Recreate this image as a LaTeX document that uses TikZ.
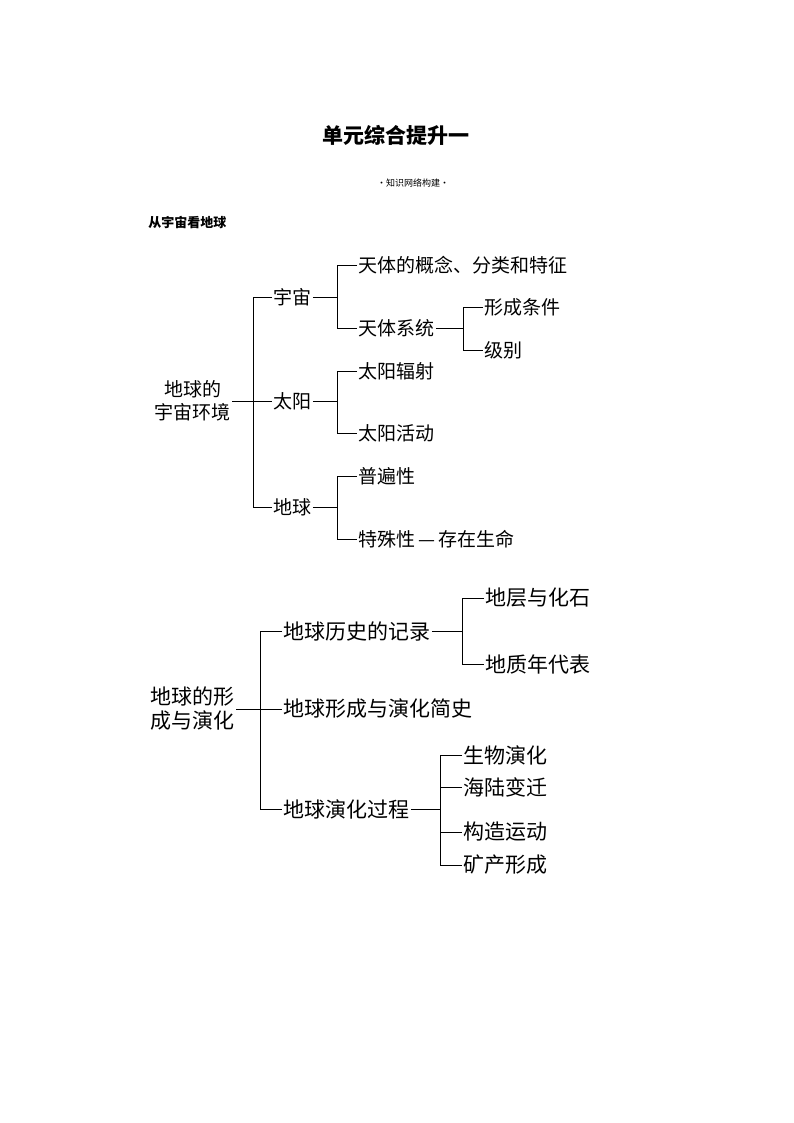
\documentclass[tikz,border=0pt]{standalone}
\usepackage{fontspec}
\setmainfont{Noto Sans CJK SC}
\begin{document}
\begin{tikzpicture}[x=1pt,y=-1pt,line width=0.8pt,
  a/.style={font=\fontsize{19}{22}\selectfont,anchor=west,inner sep=1pt},
  b/.style={font=\fontsize{21}{25}\selectfont,anchor=west,inner sep=1pt},
  r/.style={font=\fontsize{19}{23}\selectfont,align=center,inner sep=1pt}]
\useasboundingbox (0,0) rectangle (794,1123);
\node[font=\fontsize{21}{24}\selectfont\bfseries] (title) at (396,135) {单元综合提升一};
\node[font=\fontsize{9}{10}\selectfont] (sub) at (413,183) {·知识网络构建·};
\node[font=\fontsize{13}{15}\selectfont\bfseries,anchor=west,inner sep=0] (h) at (148,222) {从宇宙看地球};
% tree 1
\node[r,anchor=east] (r1) at (232,401) {地球的\\宇宙环境};
\node[a] (yz) at (272,297) {宇宙};
\node[a] (ty) at (272,401) {太阳};
\node[a] (dq) at (272,507) {地球};
\node[a] (t1) at (357,265) {天体的概念、分类和特征};
\node[a] (t2) at (357,328) {天体系统};
\node[a] (t3) at (483,307) {形成条件};
\node[a] (t4) at (483,350) {级别};
\node[a] (s1) at (357,371) {太阳辐射};
\node[a] (s2) at (357,433) {太阳活动};
\node[a] (e1) at (357,476) {普遍性};
\node[a] (e2) at (357,539) {特殊性\,—\,存在生命};
\draw (r1.east) -- (253,401);
\draw (yz.west) -| (253,507) -- (dq.west);
\draw (253,401) -- (ty.west);
\draw (yz.east) -- (337,297);
\draw (t1.west) -| (337,328) -- (t2.west);
\draw (t2.east) -- (463,328);
\draw (t3.west) -| (463,350) -- (t4.west);
\draw (ty.east) -- (337,401);
\draw (s1.west) -| (337,433) -- (s2.west);
\draw (dq.east) -- (337,507);
\draw (e1.west) -| (337,539) -- (e2.west);
% tree 2
\node[r,font=\fontsize{21}{24}\selectfont,anchor=east] (r2) at (236,709) {地球的形\\成与演化};
\node[b] (h1) at (282,631) {地球历史的记录};
\node[b] (h2) at (282,709) {地球形成与演化简史};
\node[b] (h3) at (282,809) {地球演化过程};
\node[b] (g1) at (484,598) {地层与化石};
\node[b] (g2) at (484,664) {地质年代表};
\node[b] (p1) at (462,755) {生物演化};
\node[b] (p2) at (462,787) {海陆变迁};
\node[b] (p3) at (462,832) {构造运动};
\node[b] (p4) at (462,865) {矿产形成};
\draw (r2.east) -- (h2.west);
\draw (h1.west) -| (260,809) -- (h3.west);
\draw (h1.east) -- (462,631);
\draw (g1.west) -| (462,664) -- (g2.west);
\draw (h3.east) -- (440,809);
\draw (p1.west) -| (440,865) -- (p4.west);
\draw (440,787) -- (p2.west);
\draw (440,832) -- (p3.west);
\end{tikzpicture}
\end{document}
